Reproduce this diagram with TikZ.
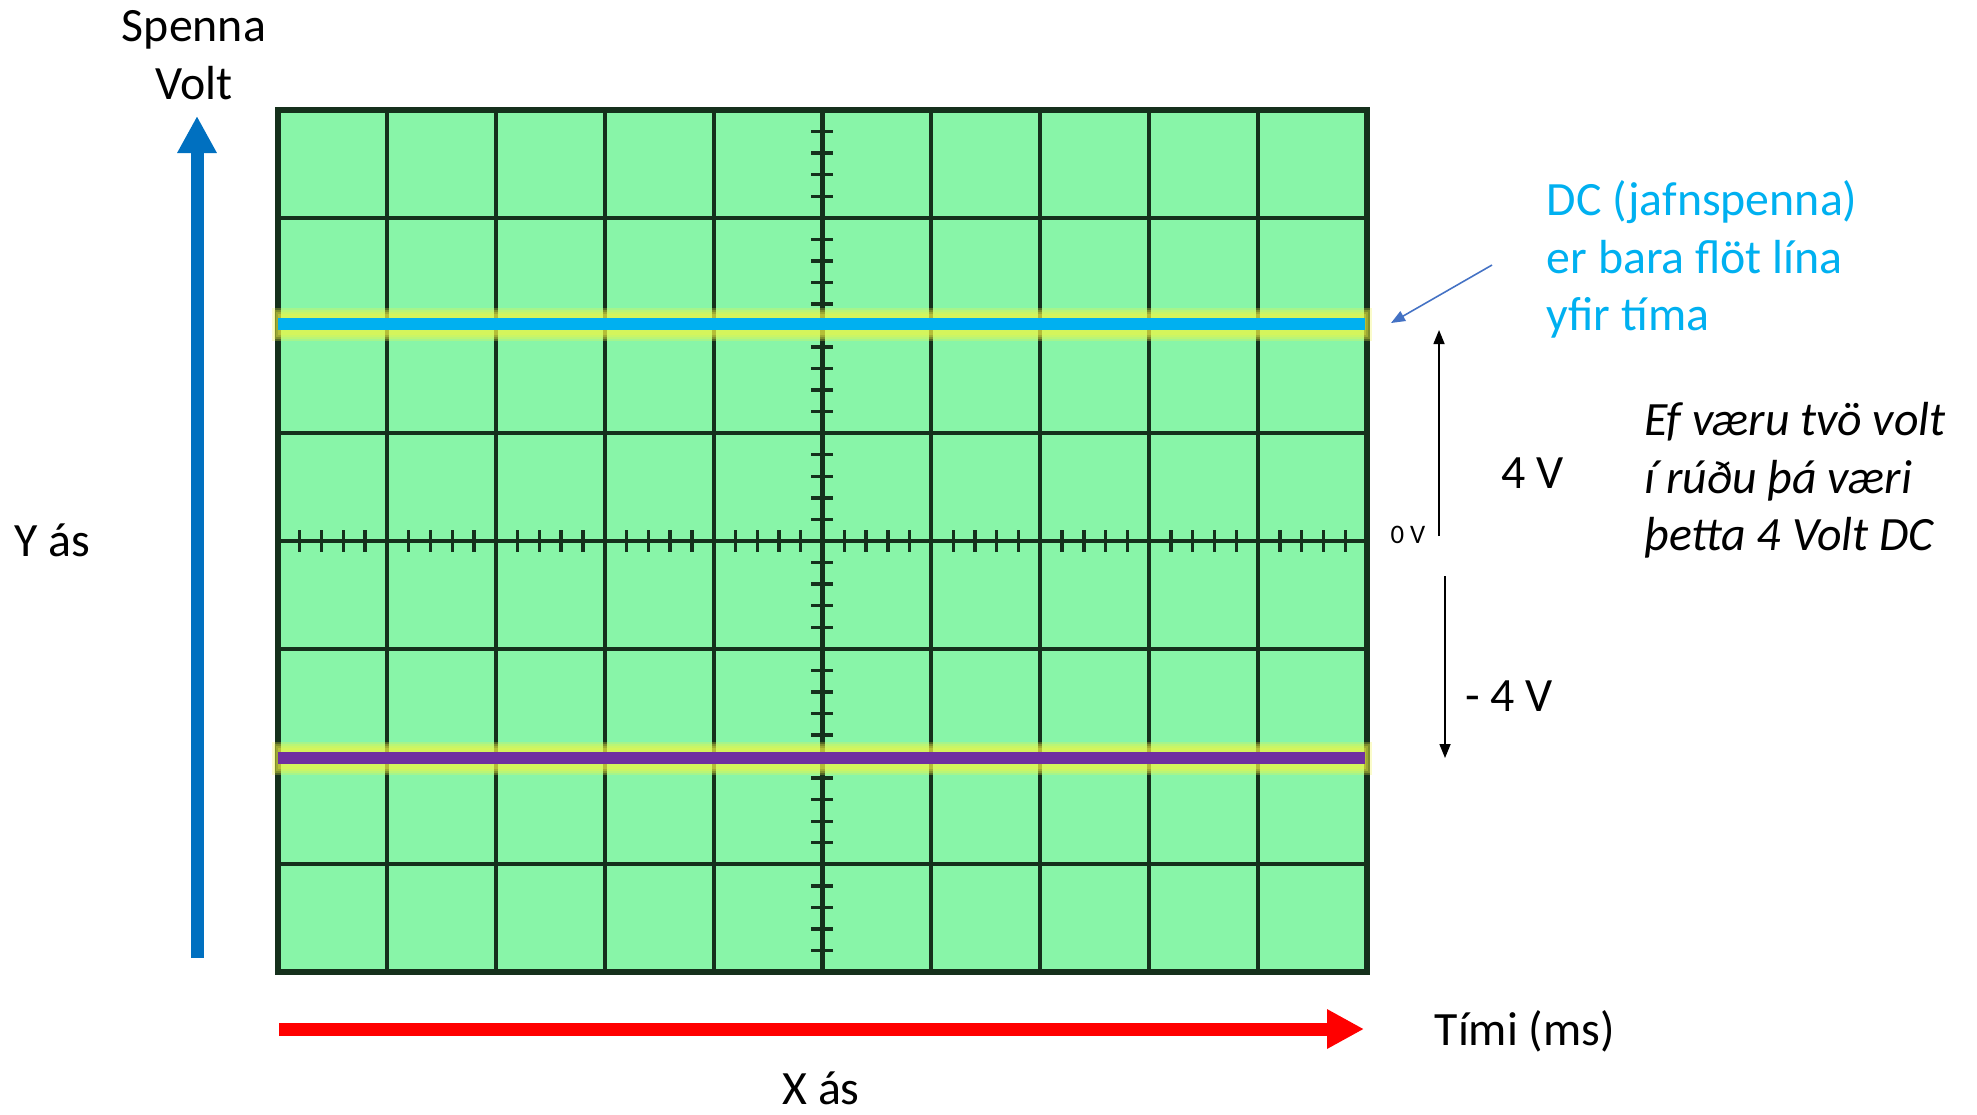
\documentclass[tikz,border=0pt]{standalone}
\usepackage{fontspec}
\setmainfont{Carlito}
\usepackage{tikz}
\usetikzlibrary{arrows.meta, positioning}
\definecolor{cscreen}{HTML}{88F5A8}
\definecolor{cgrid}{HTML}{15301C}
\definecolor{cyaxis}{HTML}{0070C0}
\definecolor{cxaxis}{HTML}{FF0000}
\definecolor{cdc}{HTML}{00B0F0}
\definecolor{cneg}{HTML}{7030A0}
\definecolor{cnote}{HTML}{4472C4}
\definecolor{cglow}{HTML}{F2F542}

\begin{document}
\begin{tikzpicture}[
  x=0.01cm, y=-0.01cm,
  gridline/.style={draw=cgrid, line width=1.15pt},
  tickmark/.style={draw=cgrid, line width=0.95pt},
  glowline/.style={draw=cglow, opacity=0.28},
  traceline/.style={line width=0.125cm},
  axisarrow/.style={
    -{Triangle[length=0.37cm, width=0.37cm]}, line width=0.13cm
  },
  thinarrow/.style={
    -{Triangle[length=0.14cm, width=0.11cm]}, line width=0.45pt
  },
  bigtext/.style={font=\fontsize{13.6}{16.3}\selectfont, inner sep=0pt},
  smalltext/.style={font=\fontsize{7.6}{9}\selectfont, inner sep=0pt}
]
\useasboundingbox (0,0) rectangle (1977,1114);

% ============================================================
% Screen: 10 x 8 divisions
% ============================================================
\fill[cscreen] (278,110) rectangle (1367,972);

\foreach \i in {1,...,9} {
  \draw[gridline] (278+108.9*\i, 110) -- (278+108.9*\i, 972);
}
\foreach \j in {1,...,7} {
  \draw[gridline] (278, 110+107.75*\j) -- (1367, 110+107.75*\j);
}

% minor ticks on the centre axes (5 per division)
\foreach \i in {0,...,9} {
  \foreach \k in {1,...,4} {
    \draw[tickmark] (278+108.9*\i+21.78*\k, 530) -- ++(0,22);
  }
}
\foreach \j in {0,...,7} {
  \foreach \k in {1,...,4} {
    \draw[tickmark] (811, 110+107.75*\j+21.55*\k) -- ++(22,0);
  }
}

\draw[gridline, line width=1.5pt] (278,110) rectangle (1367,972);

% ============================================================
% Traces: +4 V and -4 V (soft yellow glow under each)
% ============================================================
\foreach \yp in {324, 758} {
  \foreach \w/\ex in {0.33/2, 0.29/4, 0.25/6, 0.21/8} {
    \draw[glowline, line width=\w cm] (270+\ex,\yp) -- (1374-\ex,\yp);
  }
}
\draw[traceline, cdc] (278,324) -- (1365,324);
\draw[traceline, cneg] (278,758) -- (1365,758);

% ============================================================
% Axes
% ============================================================
\coordinate (ybot) at (197,958);
\coordinate (ytop) at (197,116);
\draw[axisarrow, cyaxis] (ybot) -- (ytop);

\coordinate (xleft) at (279,1029);
\coordinate (xright) at (1364,1029);
\draw[axisarrow, cxaxis] (xleft) -- (xright);

\node[bigtext, align=center, anchor=north] (spenna) at (194,10) {Spenna\\Volt};
\node[bigtext] (yas) at (52,540) {Y ás};
\node[bigtext, anchor=west] (timi) at (1434,1031) {Tími (ms)};
\node[bigtext] (xas) at (821,1088) {X ás};

% ============================================================
% Right-hand annotations
% ============================================================
\node[bigtext, cdc, align=left, anchor=north west] (dcnote) at (1546,180)
  {DC (jafnspenna)\\er bara flöt lína\\yfir tíma};
\coordinate (dcstart) at (1492,265);
\coordinate (dcend) at (1391,323);
\draw[thinarrow, cnote] (dcstart) -- (dcend);

\node[smalltext] (zerov) at (1408,535) {0 V};

\coordinate (upfrom) at (1439,536);
\coordinate (upto) at (1439,330);
\draw[thinarrow] (upfrom) -- (upto);
\node[bigtext] (plusfour) at (1533,473) {4 V};

\coordinate (downfrom) at (1445,576);
\coordinate (downto) at (1445,758);
\draw[thinarrow] (downfrom) -- (downto);
\node[bigtext] (minusfour) at (1509,696) {- 4 V};

\node[bigtext, align=left, anchor=north west, font=\fontsize{13.6}{16.3}\selectfont\itshape]
  (perdiv) at (1644,402)
  {Ef væru tvö volt\\í rúðu þá væri\\þetta 4 Volt DC};

\end{tikzpicture}
\end{document}
